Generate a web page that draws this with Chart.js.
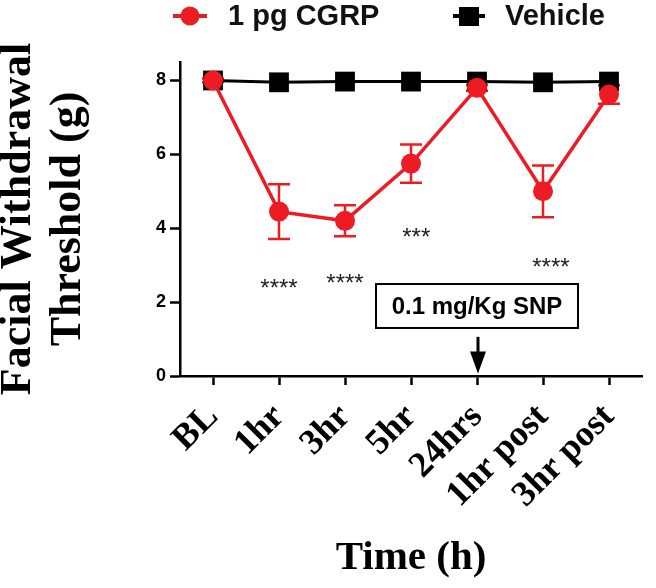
<!DOCTYPE html>
<html>
<head>
<meta charset="utf-8">
<script src="https://cdn.jsdelivr.net/npm/chart.js@4"></script>
<style>
  html, body { margin: 0; padding: 0; background: #fff; }
  canvas { display: block; }
</style>
</head>
<body>
<canvas id="myChart" width="656" height="588"></canvas>
<script>
// data
const timeLabels = ['BL', '1hr', '3hr', '5hr', '24hrs', '1hr post', '3hr post'];
const cgrpMean = [8.0, 4.45, 4.2, 5.75, 7.8, 5.0, 7.62];
const cgrpErr = [0.05, 0.74, 0.42, 0.52, 0.08, 0.7, 0.25];
const vehicleMean = [8.0, 7.95, 7.97, 7.97, 7.97, 7.95, 7.97];
const yTicks = [0, 2, 4, 6, 8];

// significance stars
const starText = ['****', '****', '***', '****'];
const starIndex = [1, 2, 3.08, 5.12];
const starValue = [2.52, 2.66, 3.9, 3.09];

// SNP note
const snpText = '0.1 mg/Kg SNP';
const snpIndex = 4;

const red = 'rgb(237,28,36)';

// error bars under the points
const errorBars = {
  id: 'errorBars',
  beforeDatasetsDraw(chart) {
    const { ctx, scales: { x, y } } = chart;
    ctx.save();
    ctx.strokeStyle = red;
    ctx.lineWidth = 2.5;
    cgrpMean.forEach((m, i) => {
      const px = x.getPixelForValue(i);
      const top = y.getPixelForValue(m + cgrpErr[i]);
      const bot = y.getPixelForValue(m - cgrpErr[i]);
      ctx.beginPath();
      ctx.moveTo(px, top); ctx.lineTo(px, bot);
      ctx.moveTo(px - 11, top); ctx.lineTo(px + 11, top);
      ctx.moveTo(px - 11, bot); ctx.lineTo(px + 11, bot);
      ctx.stroke();
    });
    ctx.restore();
  }
};

// legend, stars, SNP box and arrow
const extras = {
  id: 'extras',
  afterDraw(chart) {
    const { ctx, scales: { x, y } } = chart;
    ctx.save();

    // legend
    ctx.font = 'bold 29px "Liberation Sans", Arial, sans-serif';
    ctx.textBaseline = 'middle';
    ctx.textAlign = 'left';
    ctx.strokeStyle = red;
    ctx.lineWidth = 4;
    ctx.beginPath(); ctx.moveTo(173, 16); ctx.lineTo(207, 16); ctx.stroke();
    ctx.fillStyle = red;
    ctx.beginPath(); ctx.arc(190, 16, 9.5, 0, Math.PI * 2); ctx.fill();
    ctx.fillStyle = '#111';
    ctx.fillText(chart.data.datasets[0].label, 228, 17);
    ctx.strokeStyle = '#000';
    ctx.beginPath(); ctx.moveTo(453, 16); ctx.lineTo(485, 16); ctx.stroke();
    ctx.fillStyle = '#000';
    ctx.fillRect(459, 7, 20, 19);
    ctx.fillStyle = '#111';
    ctx.fillText(chart.data.datasets[1].label, 505, 17);

    // stars
    ctx.font = '24px "Liberation Sans", Arial, sans-serif';
    ctx.textAlign = 'center';
    ctx.textBaseline = 'alphabetic';
    ctx.fillStyle = '#222';
    starText.forEach((s, i) => {
      ctx.fillText(s, x.getPixelForValue(starIndex[i]), y.getPixelForValue(starValue[i]) + 13);
    });

    // SNP box
    const cx = x.getPixelForValue(snpIndex);
    const bTop = y.getPixelForValue(2.49);
    const bBot = y.getPixelForValue(1.3);
    ctx.strokeStyle = '#000';
    ctx.lineWidth = 2;
    ctx.strokeRect(cx - 101, bTop, 202, bBot - bTop);
    ctx.font = 'bold 24px "Liberation Sans", Arial, sans-serif';
    ctx.textBaseline = 'middle';
    ctx.fillStyle = '#000';
    ctx.fillText(snpText, cx, (bTop + bBot) / 2 + 1);

    // arrow
    const aTop = y.getPixelForValue(1.06);
    const aTip = y.getPixelForValue(0.07);
    ctx.lineWidth = 3;
    ctx.beginPath(); ctx.moveTo(cx + 1, aTop); ctx.lineTo(cx + 1, aTip - 18); ctx.stroke();
    ctx.beginPath();
    ctx.moveTo(cx - 7, aTip - 22);
    ctx.lineTo(cx + 9, aTip - 22);
    ctx.lineTo(cx + 1, aTip);
    ctx.closePath();
    ctx.fill();

    ctx.restore();
  }
};

new Chart(document.getElementById('myChart'), {
  type: 'line',
  data: {
    labels: timeLabels,
    datasets: [
      {
        label: '1 pg CGRP',
        data: cgrpMean,
        borderColor: red,
        backgroundColor: red,
        borderWidth: 3.5,
        pointStyle: 'circle',
        pointRadius: 10,
        pointBorderWidth: 0,
        tension: 0
      },
      {
        label: 'Vehicle',
        data: vehicleMean,
        borderColor: '#000',
        backgroundColor: '#000',
        borderWidth: 3,
        pointStyle: 'rect',
        pointRadius: 14,
        pointBorderWidth: 0,
        tension: 0
      }
    ]
  },
  options: {
    responsive: false,
    animation: false,
    layout: { padding: { top: 62, right: 3, left: 0, bottom: 0 } },
    plugins: {
      legend: { display: false },
      tooltip: { enabled: false }
    },
    scales: {
      x: {
        offset: true,
        grid: { drawOnChartArea: false, drawTicks: true, tickLength: 9, tickColor: '#000', tickWidth: 2.5 },
        border: { color: '#000', width: 2.5 },
        ticks: {
          autoSkip: false,
          minRotation: 45,
          maxRotation: 45,
          padding: 11,
          color: '#000',
          font: { family: '"Liberation Serif", "Times New Roman", serif', weight: 'bold', size: 36 }
        },
        title: {
          display: true,
          text: 'Time (h)',
          color: '#000',
          padding: { top: 0, bottom: 5 },
          font: { family: '"Liberation Serif", "Times New Roman", serif', weight: 'bold', size: 41, lineHeight: 1.2 }
        },
        afterFit(scale) { scale.height = 212; }
      },
      y: {
        min: 0,
        max: 8.5,
        afterBuildTicks(scale) { scale.ticks = yTicks.map(v => ({ value: v })); },
        grid: { drawOnChartArea: false, drawTicks: true, tickLength: 10, tickColor: '#000', tickWidth: 2.5 },
        border: { color: '#000', width: 2.5 },
        ticks: {
          padding: 4,
          color: '#000',
          font: { family: '"Liberation Sans", Arial, sans-serif', weight: 'bold', size: 18 }
        },
        title: {
          display: true,
          text: ['Facial Withdrawal', 'Threshold (g)'],
          color: '#000',
          padding: { top: -5.5, bottom: 0 },
          font: { family: '"Liberation Serif", "Times New Roman", serif', weight: 'bold', size: 44, lineHeight: 1.12 }
        },
        afterFit(scale) { scale.width = 180; }
      }
    }
  },
  plugins: [errorBars, extras]
});
</script>
</body>
</html>
